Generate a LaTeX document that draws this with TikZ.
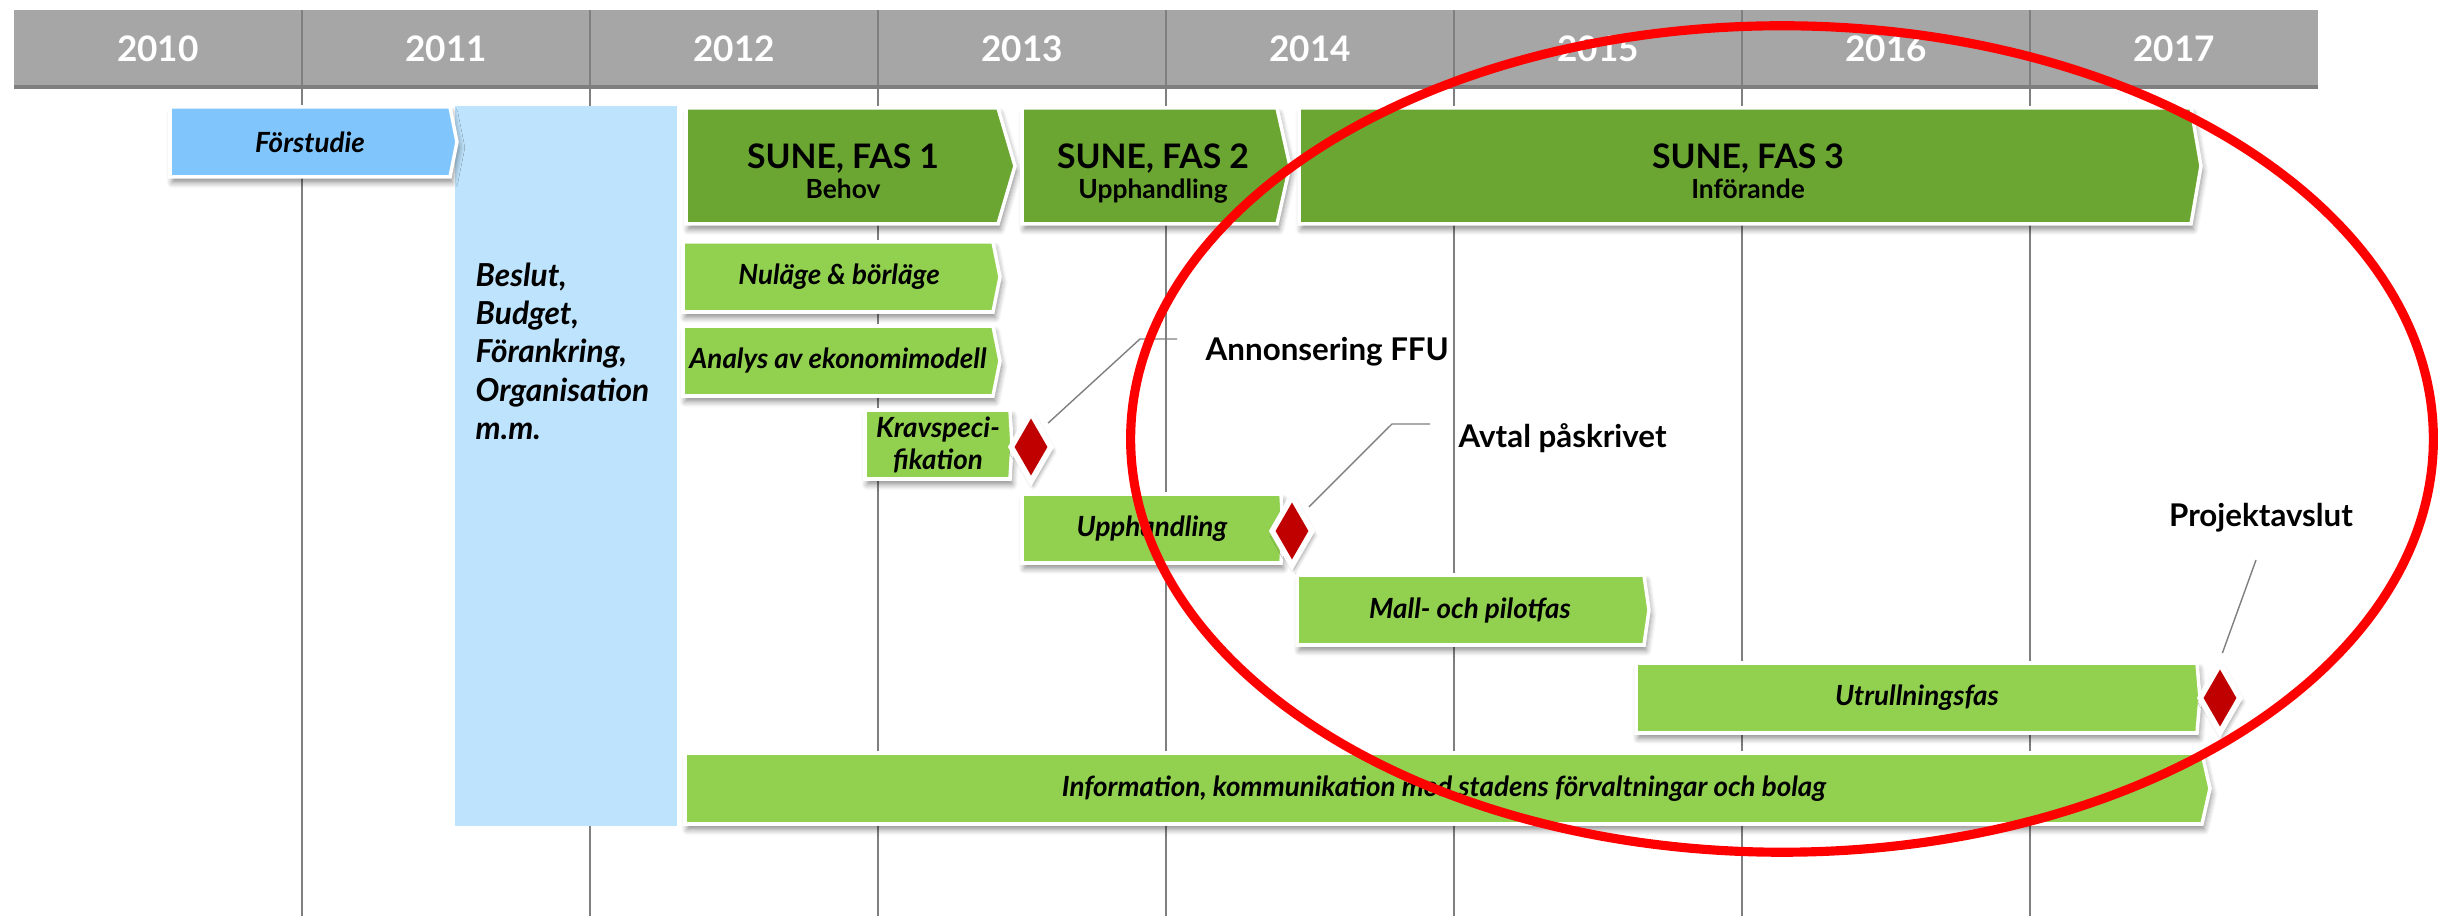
\documentclass[tikz,border=0pt]{standalone}
\usepackage{fontspec}
\setmainfont{Lato}
\usetikzlibrary{calc,shapes.geometric,shadows.blur}

\definecolor{hdrgray}{HTML}{A6A6A6}
\definecolor{gridgray}{HTML}{7F7F7F}
\definecolor{skyblue}{HTML}{80C6FC}
\definecolor{paleblue}{HTML}{BEE3FC}
\definecolor{darkgreen}{HTML}{6BA532}
\definecolor{litegreen}{HTML}{92D050}
\definecolor{msred}{HTML}{C00000}

\tikzset{
  phase/.style={draw=white, line width=1pt,
    blur shadow={shadow xshift=0.6pt, shadow yshift=-1.6pt, shadow blur steps=6, shadow blur radius=1.6pt, shadow opacity=45}},
  phasetext/.style={font=\bfseries\itshape\fontsize{7.9}{9}\selectfont, align=center, inner sep=0pt},
  sunetext/.style={font=\bfseries\fontsize{9.6}{8.7}\selectfont, align=center, inner sep=0pt, anchor=north},
  yeartext/.style={font=\bfseries\fontsize{10}{12}\selectfont, text=white, inner sep=0pt},
  besluttext/.style={font=\bfseries\itshape\fontsize{9}{10.9}\selectfont, align=left, inner sep=0pt, anchor=north west},
  milestone/.style={diamond, draw=white, line width=1.6pt, fill=msred, minimum width=0.42cm, minimum height=0.71cm, inner sep=0pt,
    blur shadow={shadow xshift=0.6pt, shadow yshift=-1.2pt, shadow blur steps=5, shadow blur radius=1.2pt, shadow opacity=40}},
  callout/.style={font=\bfseries\fontsize{8.9}{10}\selectfont, inner sep=0pt},
  leader/.style={draw=gridgray, line width=0.4pt},
  yearline/.style={draw=gridgray, line width=0.5pt},
}

% x1, y1, x2, y2, tip, fill
\newcommand{\phaseshape}[6]{%
  \path[phase, fill=#6] (#1,#2) -- (#3,#2) -- ({#3+#5},{(#2+#4)/2}) -- (#3,#4) -- (#1,#4) -- cycle;}

\begin{document}
\begin{tikzpicture}[x=0.01cm, y=-0.01cm]
    \useasboundingbox (0,0) rectangle (2438,916);
    % years
    \fill[hdrgray] (14,10) rectangle (2318,87);
    \draw[gridgray, line width=1pt] (14,87) -- (2318,87);
    \foreach \i in {0,...,6}
        \draw[yearline] (302+288*\i,10) -- (302+288*\i,916);
    \foreach \yr [count=\i from 0] in {2010,...,2017}
        \node[yeartext] (y\yr) at (158+288*\i,49) {\yr};
    % decision column
    \fill[paleblue] (455,106) rectangle (677,826);
    \node[besluttext] (beslut) at (475,262) {Beslut,\\Budget,\\Förankring,\\Organisation\\m.m.};
    % phases
    \phaseshape{170}{107}{450}{177}{7}{skyblue}
    \node[phasetext] (forstudie) at (310,142) {Förstudie};
    \phaseshape{686}{108}{998}{224}{17}{darkgreen}
    \node[sunetext] (fas1) at (843,143) {SUNE, FAS 1\\{\fontsize{7.5}{8}\selectfont Behov}};
    \phaseshape{1022}{108}{1277}{224}{13}{darkgreen}
    \node[sunetext] (fas2) at (1153,143) {SUNE, FAS 2\\{\fontsize{7.5}{8}\selectfont Upphandling}};
    \phaseshape{1299}{108}{2191}{224}{10}{darkgreen}
    \node[sunetext] (fas3) at (1748,143) {SUNE, FAS 3\\{\fontsize{7.5}{8}\selectfont Införande}};
    % activities
    \phaseshape{683}{242}{993}{312}{7}{litegreen}
    \node[phasetext] (nulage) at (839,277) {Nuläge \& börläge};
    \phaseshape{683}{326}{993}{396}{7}{litegreen}
    \node[phasetext] (analys) at (838,361) {Analys av ekonomimodell};
    \phaseshape{865}{410}{1010}{479}{2}{litegreen}
    \node[phasetext] (krav) at (938,445) {Kravspeci-\\fikation};
    \phaseshape{1022}{494}{1281}{563}{2}{litegreen}
    \node[phasetext] (upph) at (1152,529) {Upphandling};
    \phaseshape{1297}{575}{1644}{645}{5}{litegreen}
    \node[phasetext] (mall) at (1470,611) {Mall- och pilotfas};
    \phaseshape{1636}{663}{2197}{733}{3}{litegreen}
    \node[phasetext] (utrull) at (1917,698) {Utrullningsfas};
    \phaseshape{685}{753}{2202}{824}{8}{litegreen}
    \node[phasetext] (info) at (1444,789) {Information, kommunikation med stadens förvaltningar och bolag};
    % milestones
    \node[milestone] (ffu) at (1031,447) {};
    \node[milestone] (avtal) at (1292,531) {};
    \node[milestone] (slut) at (2220,698) {};
    \node[callout, anchor=west] (lblffu) at (1205,352) {Annonsering FFU};
    \node[callout, anchor=west] (lblavtal) at (1458,438) {Avtal påskrivet};
    \node[callout] (lblslut) at (2261,518) {Projektavslut};
    \coordinate (k1) at (1140,339);
    \coordinate (k1e) at ($(k1)+(37,0)$);
    \coordinate (k2) at (1392,424);
    \coordinate (k2e) at ($(k2)+(38,0)$);
    \coordinate (k3) at (2256,560);
    \draw[leader, shorten <=2pt] (ffu.north east) -- (k1) -- (k1e);
    \draw[leader, shorten <=2pt] (avtal.north east) -- (k2) -- (k2e);
    \draw[leader, shorten <=2pt] (slut.north) -- (k3);
    % scope marking
    \draw[red, line width=2.6pt] (1782,439) ellipse [x radius=6.51cm, y radius=4.13cm];
\end{tikzpicture}
\end{document}
